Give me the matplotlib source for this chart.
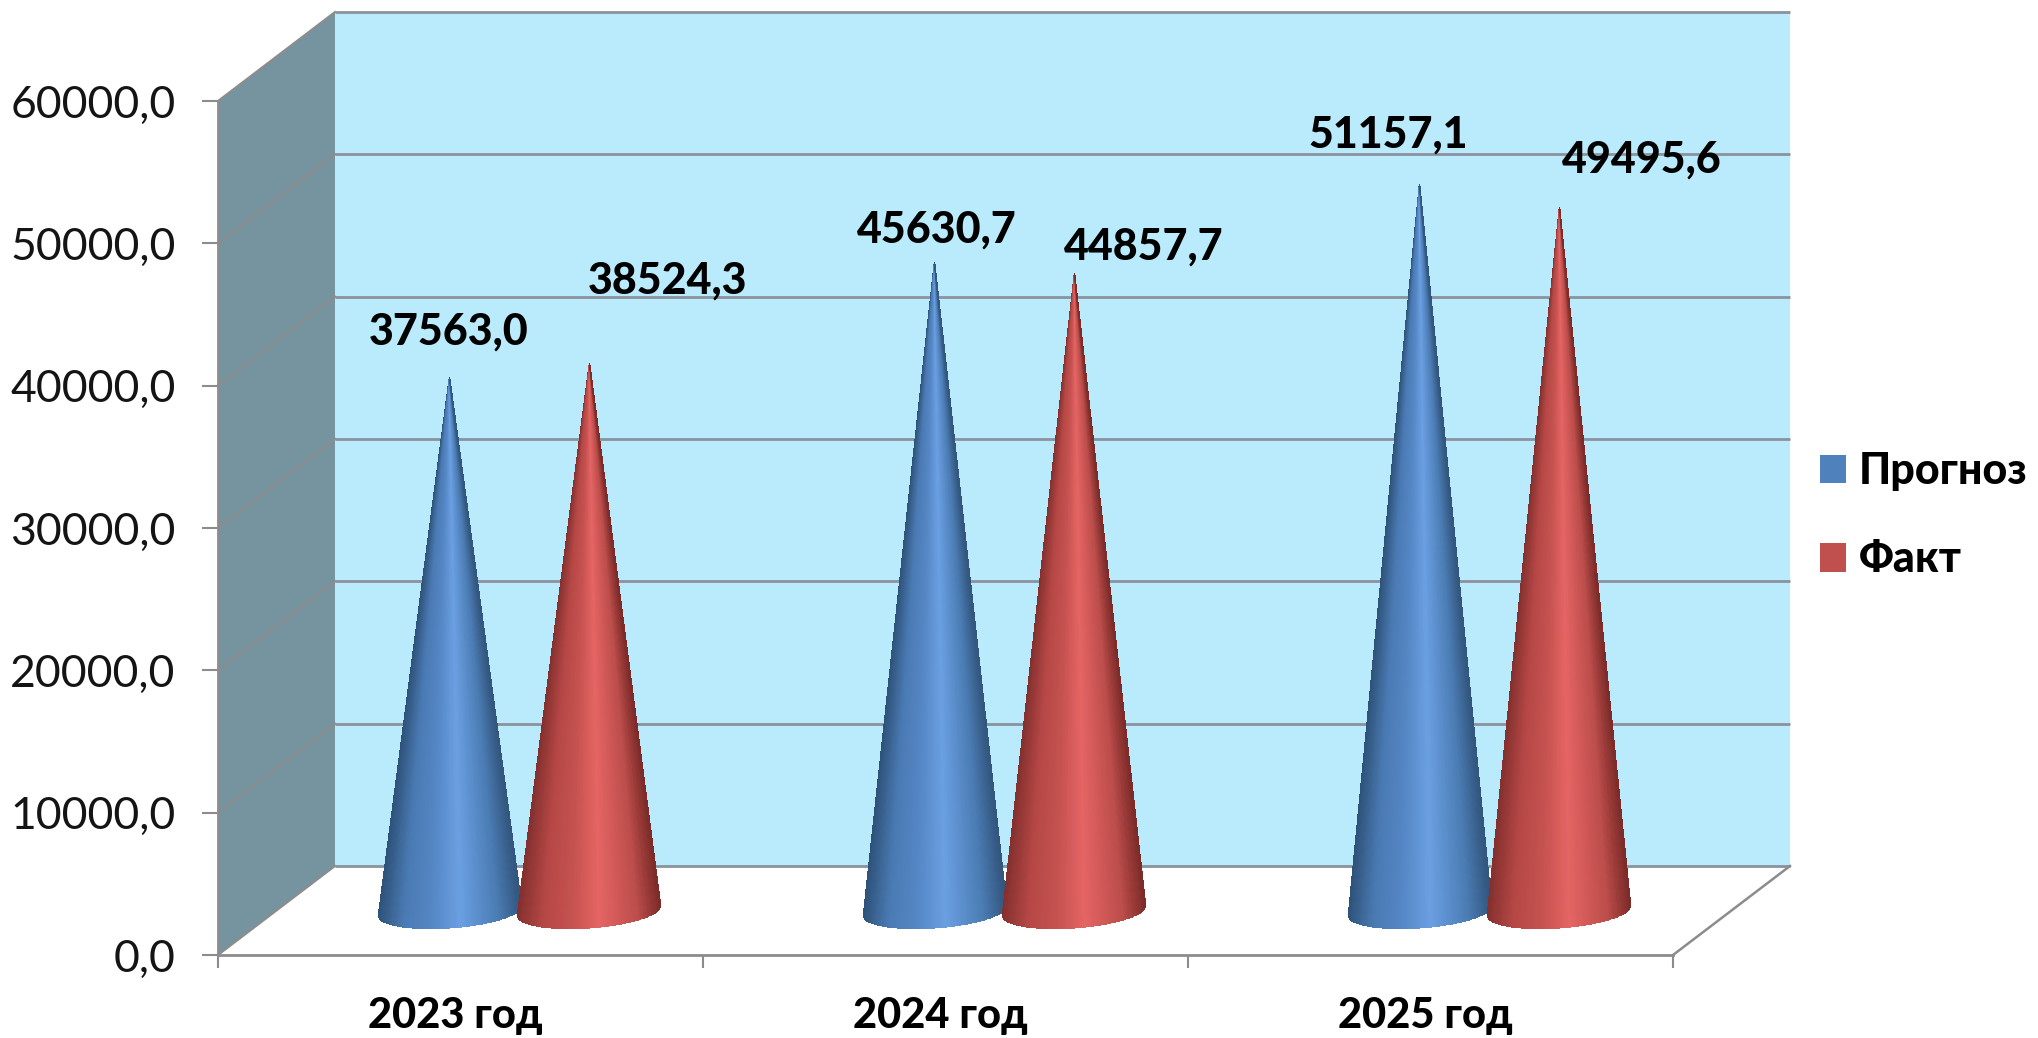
import numpy as np
import matplotlib
matplotlib.use("Agg")
import matplotlib.pyplot as plt
from matplotlib.colors import LinearSegmentedColormap
from matplotlib.patches import Patch, Polygon

categories = ["2023 год", "2024 год", "2025 год"]
series_names = ["Прогноз", "Факт"]
prognoz = [37563.0, 45630.7, 51157.1]
fakt = [38524.3, 44857.7, 49495.6]
y_ticks = [0, 10000, 20000, 30000, 40000, 50000, 60000]

# label offsets from cone tip, in px
label_shift = [
    [(-1, 46), (2, 33), (-31, 49)],
    [(79, 83), (70, 27), (83, 48)],
]

FONT = ["Lato", "Open Sans", "DejaVu Sans"]
plt.rcParams["font.family"] = FONT

fig = plt.figure(figsize=(20.38, 10.38), dpi=100)
ax = fig.add_axes([218 / 2038, (1038 - 955) / 1038, 1455 / 2038, 854 / 1038])
ax.set_xlim(0, 3)
ax.set_ylim(0, 60000)
ax.patch.set_alpha(0)

# depth of the fake 3d box in data units
depth_x = 117 / 485
depth_y = 89 / 142.33 * 10000
line_col = "#8c8c8c"

# back wall, side wall
ax.add_patch(Polygon([(depth_x, depth_y), (3 + depth_x, depth_y), (3 + depth_x, 60000 + depth_y), (depth_x, 60000 + depth_y)],
                     fc="#b9ebfd", ec="none", clip_on=False, zorder=1))
ax.add_patch(Polygon([(0, 0), (depth_x, depth_y), (depth_x, 60000 + depth_y), (0, 60000)],
                     fc="#76949f", ec="none", clip_on=False, zorder=1))

for v in y_ticks:
    ax.plot([depth_x, 3 + depth_x], [v + depth_y, v + depth_y], color="#8b929e", lw=2, clip_on=False, zorder=1.5, solid_capstyle="butt")
    ax.plot([0, depth_x], [v, v + depth_y], color=line_col, lw=1.5, clip_on=False, zorder=1.5)
ax.plot([3, 3 + depth_x], [0, depth_y], color=line_col, lw=1.8, clip_on=False, zorder=1.5)

cmap_blue = LinearSegmentedColormap.from_list("b", [(0, "#2e5279"), (0.18, "#4a7ab3"), (0.38, "#5587c6"), (0.58, "#6a9fe2"), (0.85, "#4a7bb2"), (1, "#33577f")])
cmap_red = LinearSegmentedColormap.from_list("r", [(0, "#84302e"), (0.18, "#b54745"), (0.38, "#c5524f"), (0.58, "#e56464"), (0.85, "#bb4d4a"), (1, "#7e2c2a")])

level = depth_y / 2 - 87


def cone(cx, value, cmap, z):
    half = 71.5 / 485
    t = np.linspace(-1, 1, 161)
    bottom = level + 120 + 350 * t - 1225 * np.sqrt(1 - t ** 2)
    X = np.vstack([cx + half * t, np.full_like(t, cx)])
    Y = np.vstack([bottom, np.full_like(t, value + level)])
    C = ((t[:-1] + t[1:]) / 2 + 1)[None, :] / 2
    ax.pcolormesh(X, Y, C, cmap=cmap, vmin=0, vmax=1, shading="flat", edgecolors="face", linewidth=0.4,
                  clip_on=False, zorder=z)


offset = 0.1435
for i in range(3):
    cx = i + 0.5 + depth_x / 2
    cone(cx - offset, prognoz[i], cmap_blue, 3 + i * 0.1)
    cone(cx + offset, fakt[i], cmap_red, 3.05 + i * 0.1)
    for j, vals in enumerate([prognoz, fakt]):
        tip_x = cx - offset if j == 0 else cx + offset
        ax.annotate(f"{vals[i]:.1f}".replace(".", ","), (tip_x, vals[i] + level),
                    xytext=(label_shift[j][i][0] * 0.72, label_shift[j][i][1] * 0.72), textcoords="offset points",
                    ha="center", va="center", fontsize=31, fontweight="black", color="black", zorder=6, annotation_clip=False)

for s in ["top", "right"]:
    ax.spines[s].set_visible(False)
for s in ["left", "bottom"]:
    ax.spines[s].set_color(line_col)
    ax.spines[s].set_linewidth(2)
ax.set_yticks(y_ticks)
ax.set_yticklabels([f"{v},0" for v in y_ticks], fontsize=32, color="#141414")
ax.set_xticks([0, 1, 2, 3])
ax.set_xticklabels([])
ax.set_xticks([0.49, 1.49, 2.49], minor=True)
ax.set_xticklabels(categories, minor=True, fontsize=30, fontweight="black", color="black")
ax.tick_params(axis="y", length=11.5, width=1.5, color=line_col, pad=19)
ax.tick_params(axis="x", which="major", length=9.5, width=1.5, color=line_col)
ax.tick_params(axis="x", which="minor", length=0, pad=30)

handles = [Patch(fc="#4f81bd", ec="none"), Patch(fc="#c0504d", ec="none")]
fig.legend(handles, series_names, loc="upper left", bbox_to_anchor=(1777 / 2038, 1 - 408 / 1038),
           frameon=False, prop={"size": 31, "weight": "black"}, handlelength=0.6, handleheight=0.65,
           handletextpad=0.3, labelspacing=1.12, borderpad=0.5)

fig.savefig("out.png", dpi=100)
